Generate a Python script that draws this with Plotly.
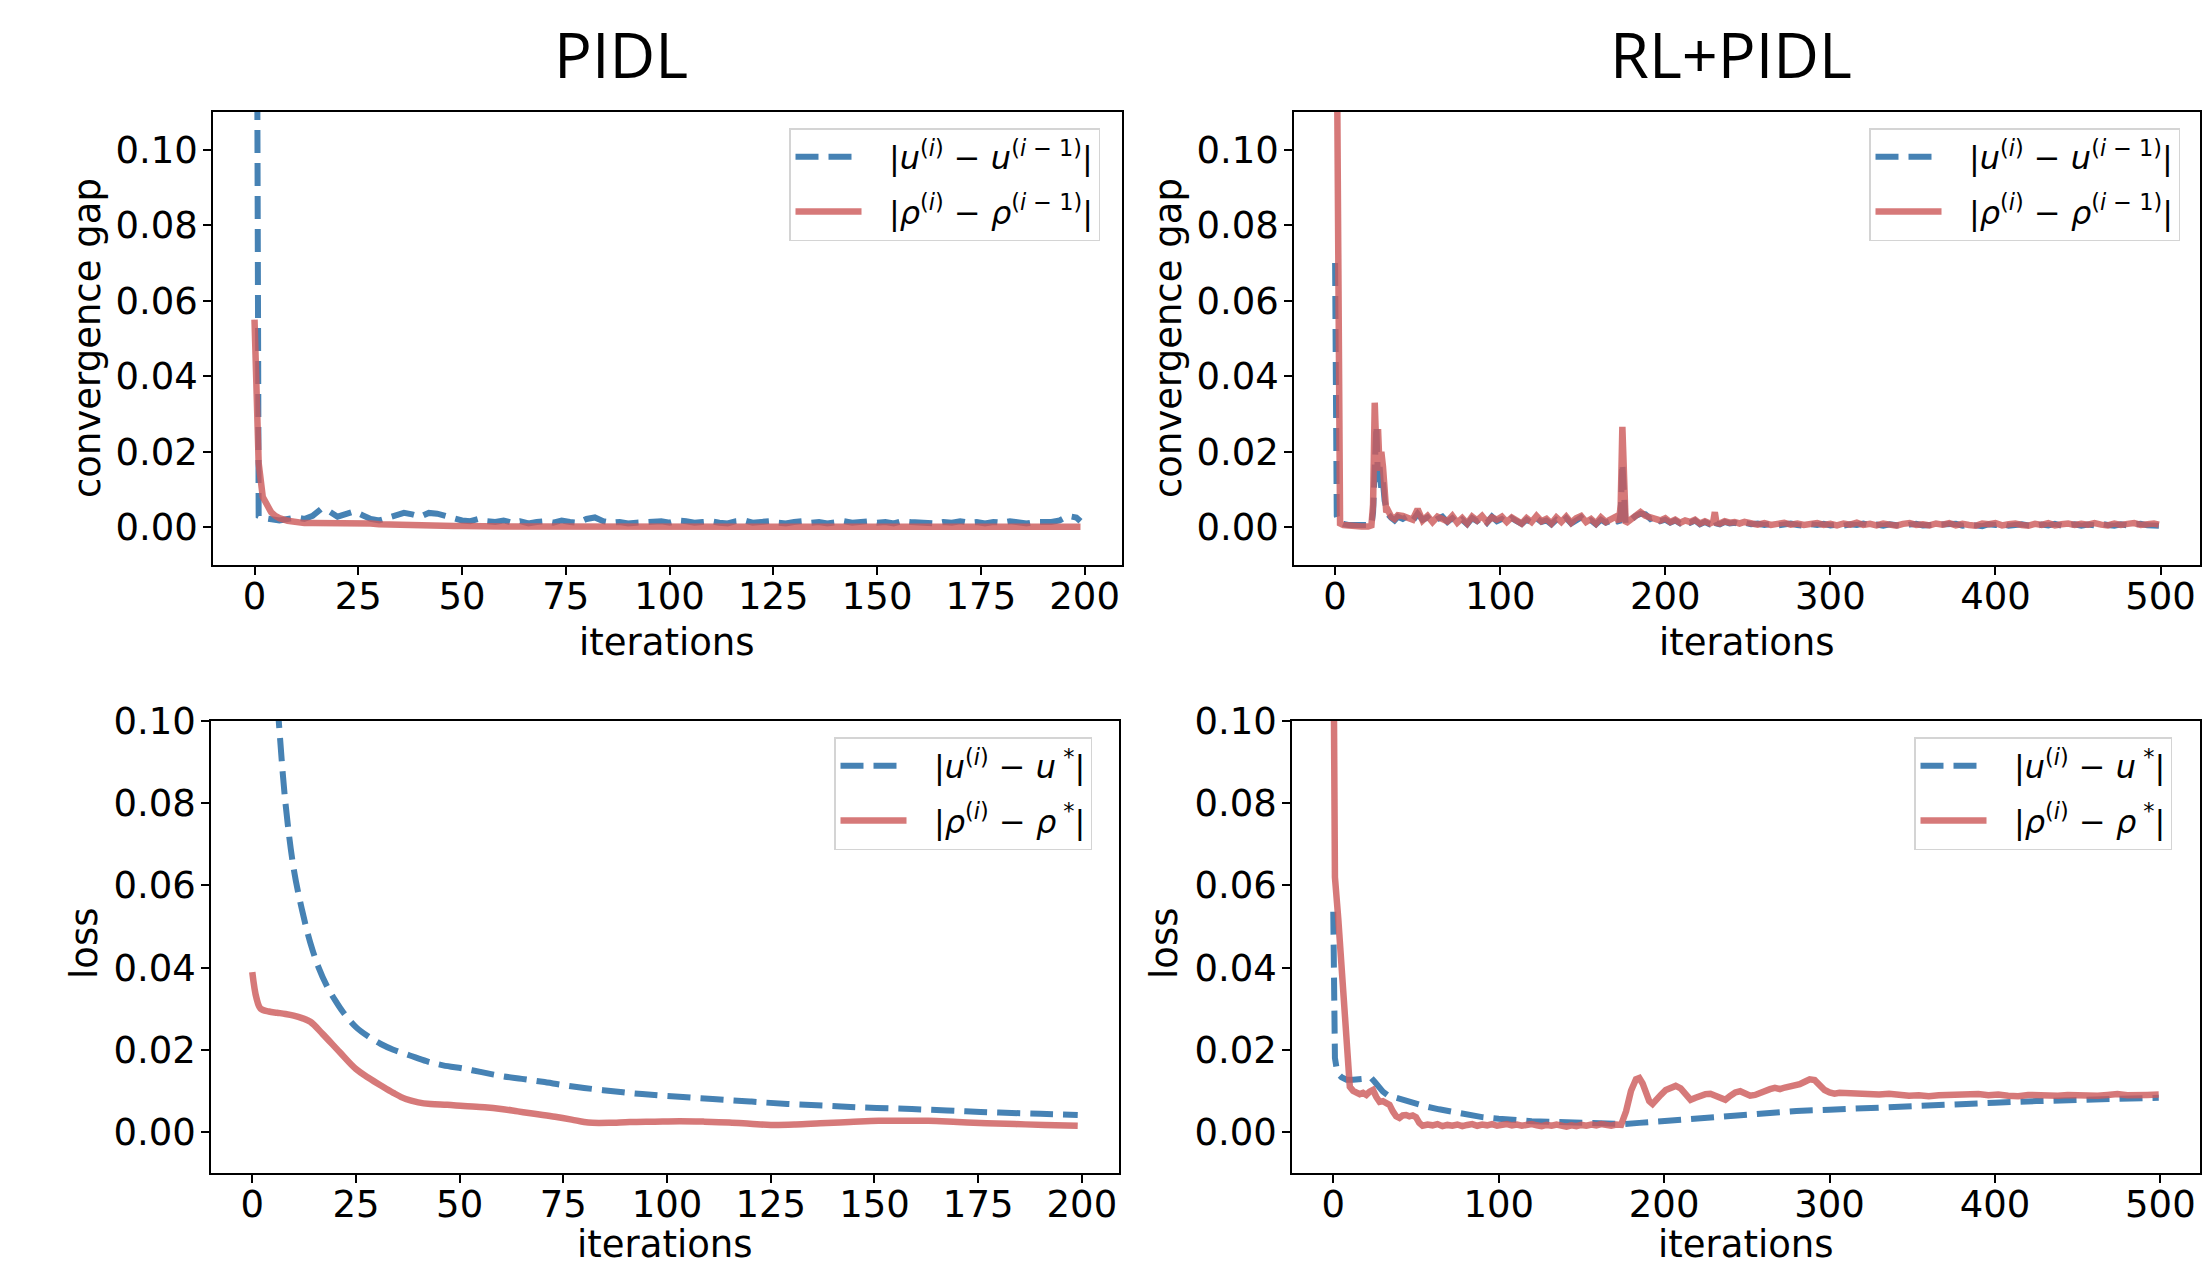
import plotly.graph_objects as go

W, H = 2202, 1264

# ---------------- data ----------------
# PIDL: convergence gap
x_pidl_gap = [0, 1, 2, 3, 4, 5, 6] + list(range(8, 200, 2)) + [199]
u_gap_pidl = [
    0.35, 0.003, 0.0025, 0.0023, 0.0022, 0.0020, 0.0018,
    0.0022, 0.0026, 0.0022, 0.0030, 0.0048, 0.0042, 0.0028, 0.0035, 0.0042, 0.0032, 0.0022, 0.0018,
    0.0024, 0.0032, 0.0038, 0.0034, 0.0028, 0.0038, 0.0036, 0.0030, 0.0022, 0.0018,
    0.0016, 0.0022, 0.0016, 0.0014, 0.0018, 0.0012, 0.0016, 0.0010, 0.0014, 0.0016,
    0.0012, 0.0018, 0.0014, 0.0012, 0.0022, 0.0026, 0.0016, 0.0012, 0.0014, 0.0010,
    0.0012, 0.0014, 0.0012, 0.0016, 0.0012, 0.0018, 0.0016, 0.0012, 0.0014, 0.0016,
    0.0012, 0.0010, 0.0016, 0.0018, 0.0012, 0.0014, 0.0016, 0.0012, 0.0010, 0.0014,
    0.0016, 0.0012, 0.0014, 0.0010, 0.0014, 0.0016, 0.0012, 0.0014, 0.0016, 0.0012,
    0.0014, 0.0010, 0.0016, 0.0014, 0.0012, 0.0014, 0.0010, 0.0014, 0.0012, 0.0016,
    0.0012, 0.0014, 0.0010, 0.0014, 0.0012, 0.0016, 0.0012, 0.0010, 0.0014, 0.0012,
    0.0014, 0.0018, 0.0030, 0.0026, 0.0016,
]
rho_gap_pidl = [
    0.055, 0.017, 0.008, 0.0055, 0.004, 0.003, 0.0024,
    0.0017, 0.0013, 0.0011, 0.0011, 0.0011, 0.0012, 0.0013, 0.0013, 0.0013, 0.0012, 0.0010, 0.0008,
    0.0007, 0.0007, 0.0007, 0.0007, 0.0006, 0.0005, 0.0004, 0.0004, 0.0003, 0.0003,
    0.0002, 0.0002, 0.0002, 0.0002, 0.0002, 0.0002, 0.0002, 0.0002, 0.0002, 0.0002,
    0.0002, 0.0001, 0.0001, 0.0001, 0.0001, 0.0001, 0.0001, 0.0001, 0.0001, 0.0001,
    0.0001, 0.0001, 0.0001, 0.0001, 0.0001, 0.0001, 0.0001, 0.0001, 0.0001, 0.0001,
    0.0001, 0.0001, 0.0001, 0.0001, 0.0001, 0.0001, 0.0001, 0.0001, 0.0001, 0.0001,
    0.0001, 0.0001, 0.0001, 0.0001, 0.0001, 0.0001, 0.0001, 0.0001, 0.0001, 0.0001,
    0.0001, 0.0001, 0.0001, 0.0001, 0.0001, 0.0001, 0.0001, 0.0001, 0.0001, 0.0001,
    0.0001, 0.0001, 0.0001, 0.0001, 0.0001, 0.0001, 0.0001, 0.0001, 0.0001, 0.0001,
    0.0001, 0.0001, 0.0001, 0.0001, 0.0001,
]

# RL+PIDL: convergence gap
x_rl_gap = ([0, 1, 2, 3, 5, 8, 12, 16, 20, 22]
            + [23, 24, 25, 26, 27, 28, 29, 30, 31, 32, 34, 36, 38]
            + list(range(41, 171, 3))
            + [172, 173, 174, 175, 176]
            + list(range(179, 228, 3)) + [229, 230, 231] + list(range(233, 249, 3))
            + list(range(252, 497, 4)) + [499])
u_gap_rl = (
    [0.070, 0.003, 0.0015, 0.0012, 0.0009, 0.0006, 0.0005, 0.0004, 0.0004, 0.0006]
    + [0.004, 0.017, 0.027, 0.012, 0.016, 0.010, 0.012, 0.007, 0.0045, 0.0035, 0.0025, 0.0018, 0.0028]
    + [0.0022, 0.0030, 0.0017, 0.0036, 0.0020, 0.0026, 0.0012, 0.0022, 0.0028, 0.0014,
       0.0024, 0.0010, 0.0020, 0.0008, 0.0024, 0.0016, 0.0026, 0.0012, 0.0028, 0.0016,
       0.0022, 0.0012, 0.0024, 0.0016, 0.0009, 0.0020, 0.0012, 0.0024, 0.0014, 0.0018,
       0.0008, 0.0020, 0.0012, 0.0024, 0.0010, 0.0018, 0.0026, 0.0012, 0.0018, 0.0008,
       0.0020, 0.0012, 0.0016, 0.0022]
    + [0.0012, 0.004, 0.017, 0.004, 0.0008]
    + [0.0018, 0.0030, 0.0036, 0.0034, 0.0022, 0.0028, 0.0016, 0.0020, 0.0012, 0.0018,
       0.0010, 0.0016, 0.0012, 0.0018, 0.0008, 0.0014, 0.0008, 0.0010, 0.0020, 0.0010,
       0.0008, 0.0014, 0.0010, 0.0012, 0.0008, 0.0012]
    + [0.0008, 0.0010, 0.0006, 0.0009, 0.0005, 0.0008, 0.0010, 0.0006, 0.0004, 0.0008,
       0.0006, 0.0009, 0.0005, 0.0007, 0.0004, 0.0008, 0.0006, 0.0010, 0.0005, 0.0007,
       0.0004, 0.0008, 0.0006, 0.0003, 0.0007, 0.0009, 0.0005, 0.0006, 0.0004, 0.0008,
       0.0006, 0.0009, 0.0004, 0.0007, 0.0005, 0.0003, 0.0008, 0.0006, 0.0009, 0.0004,
       0.0006, 0.0008, 0.0005, 0.0003, 0.0007, 0.0005, 0.0009, 0.0004, 0.0006, 0.0008,
       0.0004, 0.0007, 0.0005, 0.0009, 0.0006, 0.0004, 0.0008, 0.0005, 0.0007, 0.0009,
       0.0005, 0.0006, 0.0004]
)
rho_gap_rl = (
    [0.200, 0.120, 0.0025, 0.0010, 0.0006, 0.0004, 0.0003, 0.0002, 0.0002, 0.0005]
    + [0.006, 0.033, 0.020, 0.026, 0.015, 0.020, 0.016, 0.009, 0.004, 0.0045, 0.0028, 0.0022, 0.0032]
    + [0.0030, 0.0024, 0.0020, 0.0048, 0.0018, 0.0030, 0.0014, 0.0028, 0.0024, 0.0016,
       0.0030, 0.0012, 0.0024, 0.0010, 0.0028, 0.0018, 0.0030, 0.0014, 0.0026, 0.0020,
       0.0028, 0.0014, 0.0026, 0.0018, 0.0010, 0.0024, 0.0014, 0.0030, 0.0016, 0.0022,
       0.0010, 0.0026, 0.0014, 0.0028, 0.0012, 0.0024, 0.0030, 0.0014, 0.0022, 0.0010,
       0.0026, 0.0014, 0.0020, 0.0028]
    + [0.0015, 0.006, 0.0266, 0.005, 0.0010]
    + [0.0020, 0.0028, 0.0040, 0.0030, 0.0026, 0.0024, 0.0018, 0.0024, 0.0014, 0.0020,
       0.0012, 0.0018, 0.0014, 0.0020, 0.0010, 0.0016, 0.0010, 0.0014, 0.0040, 0.0012,
       0.0010, 0.0016, 0.0012, 0.0014, 0.0010, 0.0014]
    + [0.0010, 0.0007, 0.0011, 0.0006, 0.0009, 0.0012, 0.0007, 0.0010, 0.0006, 0.0009,
       0.0011, 0.0006, 0.0009, 0.0005, 0.0010, 0.0007, 0.0012, 0.0006, 0.0009, 0.0005,
       0.0010, 0.0007, 0.0004, 0.0009, 0.0011, 0.0006, 0.0008, 0.0005, 0.0010, 0.0007,
       0.0011, 0.0005, 0.0009, 0.0006, 0.0004, 0.0010, 0.0008, 0.0011, 0.0005, 0.0008,
       0.0010, 0.0006, 0.0004, 0.0009, 0.0006, 0.0011, 0.0005, 0.0008, 0.0010, 0.0006,
       0.0009, 0.0007, 0.0011, 0.0007, 0.0005, 0.0010, 0.0006, 0.0009, 0.0011, 0.0006,
       0.0008, 0.0010, 0.0007]
)

# PIDL: loss
x_pidl_loss_u = [0, 2, 4, 6, 8, 10, 12, 14, 16, 18,
                 20, 22, 25, 28, 31, 34, 38, 42, 46, 51,
                 55, 60, 65, 70, 75, 80, 87, 94, 102, 111,
                 120, 129, 138, 146, 155, 163, 172, 180, 190, 199]
u_loss_pidl = [0.20, 0.16, 0.13, 0.105, 0.080, 0.064, 0.054, 0.046, 0.040, 0.0355,
               0.032, 0.029, 0.0255, 0.0232, 0.0214, 0.0200, 0.0186, 0.0172, 0.0162, 0.0154,
               0.0146, 0.0136, 0.0129, 0.0122, 0.0114, 0.0107, 0.0099, 0.0092, 0.0086, 0.0080,
               0.0074, 0.0068, 0.0064, 0.0060, 0.0057, 0.0054, 0.0050, 0.0047, 0.0044, 0.0041]
x_pidl_loss_rho = [0, 1, 2, 4, 6, 8, 10, 12, 14, 17,
                   21, 25, 28, 31, 34, 37, 40, 43, 47, 51,
                   56, 60, 64, 68, 73, 77, 80, 82, 86, 91,
                   97, 103, 109, 115, 120, 125, 131, 137, 144, 151,
                   157, 163, 170, 177, 184, 191, 199]
rho_loss_pidl = [0.0389, 0.0326, 0.0300, 0.0293, 0.0290, 0.0287, 0.0283, 0.0277, 0.0268, 0.0238,
                 0.0195, 0.0153, 0.0132, 0.0113, 0.0095, 0.0080, 0.0072, 0.0068, 0.0066, 0.0063,
                 0.0060, 0.0056, 0.0050, 0.0044, 0.0037, 0.0030, 0.0024, 0.0022, 0.0022, 0.0024,
                 0.0025, 0.0026, 0.0025, 0.0023, 0.0020, 0.0017, 0.0018, 0.0021, 0.0024, 0.0027,
                 0.0027, 0.0027, 0.0024, 0.0021, 0.0019, 0.0017, 0.0015]

# RL+PIDL: loss
x_rl_loss_u = [0, 1, 2, 3, 5, 8, 12, 16, 20, 23,
               25, 27, 30, 33, 38, 44, 50, 57, 64, 71,
               80, 90, 100, 110, 120, 130, 140, 150, 160, 170,
               176, 185, 195, 205, 215, 225, 240, 260, 280, 300,
               325, 350, 375, 400, 425, 450, 475, 499]
u_loss_rl = [0.0536, 0.018, 0.0155, 0.0141, 0.0133, 0.0127, 0.0127, 0.0128, 0.0130, 0.0131,
             0.0122, 0.0110, 0.0098, 0.0089, 0.0083, 0.0075, 0.0068, 0.0061, 0.0055, 0.0049,
             0.0043, 0.0036, 0.0032, 0.0028, 0.0026, 0.0025, 0.0024, 0.0022, 0.0021, 0.0020,
             0.0019, 0.0022, 0.0025, 0.0028, 0.0032, 0.0035, 0.0041, 0.0046, 0.0051, 0.0054,
             0.0059, 0.0063, 0.0066, 0.0071, 0.0075, 0.0078, 0.0080, 0.0083]
x_rl_loss_rho = [0, 1, 3, 5, 7, 9, 10, 12, 14, 16,
                 18, 20, 22, 24, 26, 28, 30, 32, 34, 36,
                 38, 40, 42, 44, 46, 48, 50, 52, 54, 57,
                 60, 63, 66, 69, 72, 75, 78, 81, 84, 87,
                 90, 93, 96, 99, 102, 105, 108, 111, 114, 117,
                 120, 123, 126, 129, 132, 135, 138, 141, 144, 147,
                 150, 153, 156, 159, 162, 165, 168, 171, 174, 177,
                 180, 183, 185, 187, 189, 191, 193, 195, 198, 201,
                 204, 207, 210, 213, 216, 219, 222, 225, 228, 231,
                 234, 237, 240, 243, 246, 249, 252, 255, 258, 261,
                 264, 267, 270, 273, 276, 279, 282, 285, 288, 291,
                 294, 297, 300, 303, 306, 312, 318, 324, 330, 336,
                 342, 348, 354, 360, 366, 372, 378, 384, 390, 396,
                 402, 408, 414, 420, 426, 432, 438, 444, 450, 456,
                 462, 468, 474, 480, 486, 492, 499]
rho_loss_rl = [0.130, 0.062, 0.052, 0.040, 0.030, 0.018, 0.011, 0.0100, 0.0097, 0.0092,
               0.0095, 0.0090, 0.0098, 0.0102, 0.0085, 0.0073, 0.0075, 0.0069, 0.0066, 0.0050,
               0.0038, 0.0034, 0.0040, 0.0041, 0.0038, 0.0040, 0.0036, 0.0022, 0.0015, 0.0018,
               0.0016, 0.0019, 0.0014, 0.0017, 0.0015, 0.0018, 0.0014, 0.0017, 0.0019, 0.0015,
               0.0018, 0.0016, 0.0019, 0.0015, 0.0017, 0.0019, 0.0016, 0.0018, 0.0015, 0.0017,
               0.0019, 0.0016, 0.0014, 0.0017, 0.0015, 0.0018, 0.0016, 0.0013, 0.0016, 0.0014,
               0.0017, 0.0015, 0.0018, 0.0016, 0.0019, 0.0017, 0.0015, 0.0018, 0.0017, 0.0050,
               0.0100, 0.0128, 0.0131, 0.0118, 0.0095, 0.0075, 0.0068, 0.0075, 0.0090, 0.0102,
               0.0108, 0.0112, 0.0106, 0.0092, 0.0078, 0.0083, 0.0088, 0.0092, 0.0093, 0.0088,
               0.0080, 0.0078, 0.0088, 0.0096, 0.0099, 0.0094, 0.0088, 0.0090, 0.0096, 0.0100,
               0.0104, 0.0107, 0.0104, 0.0108, 0.0110, 0.0112, 0.0116, 0.0122, 0.0128, 0.0126,
               0.0114, 0.0102, 0.0096, 0.0093, 0.0095, 0.0094, 0.0092, 0.0094, 0.0091, 0.0093,
               0.0090, 0.0088, 0.0089, 0.0087, 0.0089, 0.0090, 0.0088, 0.0090, 0.0092, 0.0089,
               0.0091, 0.0088, 0.0087, 0.0090, 0.0089, 0.0091, 0.0088, 0.0090, 0.0089, 0.0091,
               0.0088, 0.0090, 0.0092, 0.0089, 0.0091, 0.0090, 0.0091]

x_ticks_pidl = [0, 25, 50, 75, 100, 125, 150, 175, 200]
x_ticks_rl = [0, 100, 200, 300, 400, 500]
y_ticks = [0.00, 0.02, 0.04, 0.06, 0.08, 0.10]

panel_titles = ["PIDL", "RL+PIDL"]
y_titles = ["convergence gap", "loss"]
x_title = "iterations"
GAP = "\u2002\u2009"
names_gap = [GAP + "|<i>u</i><sup>(<i>i</i>)</sup> − <i>u</i><sup>(<i>i</i> − 1)</sup>|",
             GAP + "|<i>ρ</i><sup>(<i>i</i>)</sup> − <i>ρ</i><sup>(<i>i</i> − 1)</sup>|"]
names_loss = [GAP + "|<i>u</i><sup>(<i>i</i>)</sup> − <i>u</i><sup> *</sup>|",
              GAP + "|<i>ρ</i><sup>(<i>i</i>)</sup> − <i>ρ</i><sup> *</sup>|"]

# ---------------- style ----------------
BLUE = "#4682b4"
RED = "rgba(205,92,92,0.82)"
FONT = "DejaVu Sans"
TICKF = dict(family=FONT, size=37, color="black")

fig = go.Figure()

def add_pair(xu, yu, xr, yr, names, xa, ya, leg, spline=False):
    shape = "spline" if spline else "linear"
    fig.add_trace(go.Scatter(x=xu, y=yu, mode="lines", name=names[0],
                             line=dict(color=BLUE, width=6, dash="23px,10px", shape=shape),
                             xaxis=xa, yaxis=ya, legend=leg, legendgroup=leg + "u"))
    fig.add_trace(go.Scatter(x=xr, y=yr, mode="lines", name=names[1],
                             line=dict(color=RED, width=6.5, shape=shape),
                             xaxis=xa, yaxis=ya, legend=leg, legendgroup=leg + "r"))

add_pair(x_pidl_gap, u_gap_pidl, x_pidl_gap, rho_gap_pidl, names_gap, "x", "y", "legend")
add_pair(x_rl_gap, u_gap_rl, x_rl_gap, rho_gap_rl, names_gap, "x2", "y2", "legend2")
add_pair(x_pidl_loss_u, u_loss_pidl, x_pidl_loss_rho, rho_loss_pidl, names_loss, "x3", "y3", "legend3", spline=True)
add_pair(x_rl_loss_u, u_loss_rl, x_rl_loss_rho, rho_loss_rl, names_loss, "x4", "y4", "legend4")

def px_x(a, b):
    return [a / W, b / W]

def px_y(top, bottom):
    return [1 - bottom / H, 1 - top / H]

ax_common = dict(showline=True, linecolor="black", linewidth=1.6, mirror=True,
                 ticks="outside", ticklen=8, tickwidth=1.6, tickcolor="black",
                 showgrid=False, zeroline=False, tickfont=TICKF, automargin=False)
xa_common = dict(ax_common, ticklabelstandoff=-10)
ya_common = dict(ax_common, ticklabelstandoff=-2)

layout = dict(
    width=W, height=H, autosize=False,
    margin=dict(l=0, r=0, t=0, b=0, pad=0, autoexpand=False),
    paper_bgcolor="white", plot_bgcolor="white",
    xaxis=dict(xa_common, domain=px_x(213, 1122), range=[-10, 209], anchor="y",
               tickvals=x_ticks_pidl),
    yaxis=dict(ya_common, domain=px_y(112, 565), range=[-0.01, 0.11], anchor="x",
               tickvals=y_ticks, tickformat=".2f"),
    xaxis2=dict(xa_common, domain=px_x(1294, 2200), range=[-24.9, 523.9], anchor="y2",
                tickvals=x_ticks_rl),
    yaxis2=dict(ya_common, domain=px_y(112, 565), range=[-0.01, 0.11], anchor="x2",
                tickvals=y_ticks, tickformat=".2f"),
    xaxis3=dict(xa_common, domain=px_x(211, 1119), range=[-9.95, 208.95], anchor="y3",
                tickvals=x_ticks_pidl),
    yaxis3=dict(ya_common, domain=px_y(721, 1173), range=[-0.01, 0.10], anchor="x3",
                tickvals=y_ticks, tickformat=".2f"),
    xaxis4=dict(xa_common, domain=px_x(1292, 2200), range=[-24.95, 523.95], anchor="y4",
                tickvals=x_ticks_rl),
    yaxis4=dict(ya_common, domain=px_y(721, 1173), range=[-0.01, 0.10], anchor="x4",
                tickvals=y_ticks, tickformat=".2f"),
    showlegend=True,
)

leg_common = dict(bgcolor="rgba(255,255,255,0.85)", bordercolor="#d4d4d4", borderwidth=1.5,
                  font=dict(family=FONT, size=32, color="black"), xanchor="left", yanchor="top",
                  xref="paper", yref="paper", tracegroupgap=10, itemwidth=66)
layout["legend"] = dict(leg_common, x=789 / W, y=1 - 128 / H)
layout["legend2"] = dict(leg_common, x=1869 / W, y=1 - 128 / H)
layout["legend3"] = dict(leg_common, x=834 / W, y=1 - 737 / H)
layout["legend4"] = dict(leg_common, x=1914 / W, y=1 - 737 / H)

fig.update_layout(**layout)

title_font = dict(family="Open Sans", size=63, color="black")
annotations = []
for txt, cx in [(panel_titles[0], 621), (panel_titles[1], 1731)]:
    annotations.append(dict(text=txt, x=cx / W, y=1 - 53 / H, xref="paper", yref="paper",
                            showarrow=False, xanchor="center", yanchor="middle", font=title_font))
lab_font = dict(family=FONT, size=37, color="black")
for (txt, cx, cy, ang) in [
    (y_titles[0], 87, 338, -90), (y_titles[0], 1168, 338, -90),
    (y_titles[1], 84, 944, -90), (y_titles[1], 1164, 944, -90),
    (x_title, 667, 642, 0), (x_title, 1747, 642, 0),
    (x_title, 665, 1244, 0), (x_title, 1746, 1244, 0),
]:
    annotations.append(dict(text=txt, x=cx / W, y=1 - cy / H, xref="paper", yref="paper",
                            showarrow=False, xanchor="center", yanchor="middle",
                            textangle=ang, font=lab_font))
fig.update_layout(annotations=annotations)

fig.write_html("out.html", config={"displayModeBar": False},
               post_script="document.body.style.margin='0';")
